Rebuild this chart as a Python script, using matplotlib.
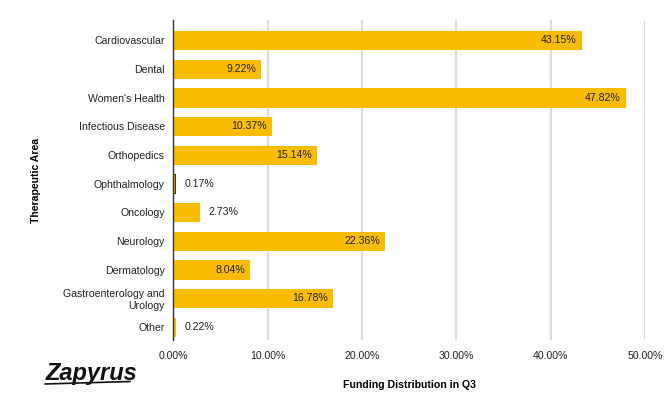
import matplotlib.pyplot as plt
import numpy as np

plt.rcParams['font.family'] = ['Liberation Sans', 'DejaVu Sans']

# data
areas = ['Cardiovascular', 'Dental', "Women's Health", 'Infectious Disease',
         'Orthopedics', 'Ophthalmology', 'Oncology', 'Neurology',
         'Dermatology', 'Gastroenterology and\nUrology', 'Other']
shares = [43.15, 9.22, 47.82, 10.37, 15.14, 0.17, 2.73, 22.36, 8.04, 16.78, 0.22]
xticks = [0, 10, 20, 30, 40, 50]
outlined = 'Ophthalmology'

bar_color = '#fbbc04'
fs = 7.6

fig = plt.figure(figsize=(6.66, 4.12), dpi=100)
ax = fig.add_axes([0.26, 0.175, 0.709, 0.776])

y = np.arange(len(areas))
edges = ['#4a3c00' if a == outlined else bar_color for a in areas]
ax.barh(y, shares, height=0.64, color=bar_color, edgecolor=edges, linewidth=0.8, zorder=3)

for yi, v in zip(y, shares):
    txt = f'{v:.2f}%'
    if v > 5:
        ax.annotate(txt, (v, yi), xytext=(-3, 0), textcoords='offset points',
                    ha='right', va='center', fontsize=fs, color='#222222', zorder=4)
    else:
        ax.annotate(txt, (v, yi), xytext=(7, 0), textcoords='offset points',
                    ha='left', va='center', fontsize=fs, color='#222222', zorder=4)

ax.set_ylim(10.45, -0.7)
ax.set_xlim(0, 50)
ax.set_yticks(y)
ax.set_yticklabels(areas, fontsize=fs, color='#222222', linespacing=1.15)
ax.set_xticks(xticks)
ax.set_xticklabels([f'{t:.2f}%' for t in xticks], fontsize=fs, color='#222222')
ax.tick_params(length=0, pad=6)
ax.tick_params(axis='x', pad=8)

ax.grid(axis='x', color='#dddddd', linewidth=1.6, zorder=0)
for s in ['top', 'right', 'bottom']:
    ax.spines[s].set_visible(False)
ax.spines['left'].set_color('#333333')
ax.spines['left'].set_linewidth(1.0)
ax.spines['left'].set_zorder(5)

ax.set_xlabel('Funding Distribution in Q3', fontsize=fs, fontweight='bold', labelpad=14)
ax.set_ylabel('Therapeutic Area', fontsize=fs, fontweight='bold', labelpad=16)

# logo
fig.text(0.068, 0.093, 'Zapyrus', fontsize=17, fontweight='bold', fontstyle='italic',
         color='#111111', va='center', ha='left')
fig.add_artist(plt.Line2D([0.068, 0.195], [0.068, 0.074], color='#111111', linewidth=1.2))

fig.savefig('out.png', dpi=100)
